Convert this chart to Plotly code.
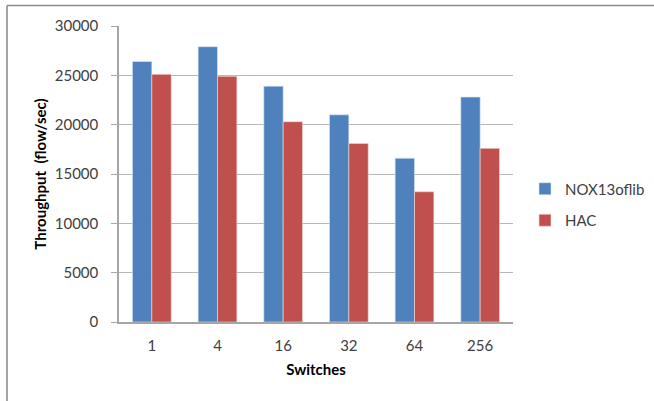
import plotly.graph_objects as go

switches = ["1", "4", "16", "32", "64", "256"]
nox = [26400, 27900, 23900, 21000, 16600, 22800]
hac = [25100, 24900, 20300, 18100, 13200, 17600]
y_ticks = [0, 5000, 10000, 15000, 20000, 25000, 30000]

FONT = "Lato, 'Open Sans', sans-serif"

fig = go.Figure()
fig.add_trace(go.Bar(x=switches, y=nox, name="NOX13oflib",
                     marker=dict(color="#4F81BD", line=dict(color="#DCE6F2", width=0.6)),
                     legendgroup="a"))
fig.add_trace(go.Bar(x=switches, y=hac, name="HAC",
                     marker=dict(color="#C0504D", line=dict(color="#F2DCDB", width=0.6)),
                     legendgroup="b"))

W, H = 654, 401
L, R, T, B = 119, 141, 26, 79
pw, ph = W - L - R, H - T - B

def px(x):
    return (x - L) / pw

def py(y):
    return (H - B - y) / ph

fig.update_layout(
    width=W, height=H, autosize=False,
    margin=dict(l=L, r=R, t=T, b=B, pad=0, autoexpand=False),
    paper_bgcolor="white", plot_bgcolor="white",
    barmode="group", bargap=0.41, bargroupgap=0,
    font=dict(family=FONT, size=15, color="#404040"),
    legend=dict(xref="container", yref="container",
                x=525 / W, y=1 - 204.5 / H, xanchor="left", yanchor="middle",
                font=dict(family=FONT, size=15, color="#404040"),
                tracegroupgap=9, itemwidth=30, bgcolor="rgba(0,0,0,0)"),
    xaxis=dict(
        showline=True, linecolor="#A6A6A6", linewidth=1.5,
        showgrid=False, ticks="", ticklabelstandoff=9,
        tickfont=dict(family=FONT, size=15, color="#404040"),
        title=dict(text="<b>Switches</b>", standoff=12,
                   font=dict(family=FONT, size=15, color="#000000")),
    ),
    yaxis=dict(
        range=[0, 30000], tickvals=y_ticks,
        ticktext=[str(v) for v in y_ticks],
        showline=True, linecolor="#A6A6A6", linewidth=1.5,
        showgrid=True, gridcolor="#B8B8B8", gridwidth=1.2,
        ticks="outside", ticklen=6, tickcolor="#A6A6A6",
        ticklabelstandoff=10, zeroline=False,
        tickfont=dict(family=FONT, size=15, color="#404040"),
        title=dict(text="<b>Throughput  (flow/sec)</b>", standoff=5,
                   font=dict(family=FONT, size=15, color="#000000")),
    ),
    shapes=[
        dict(type="line", xref="paper", yref="paper",
             x0=px(7), x1=px(W + 2), y0=py(5.5), y1=py(5.5),
             line=dict(color="#8C8C8C", width=1.6)),
        dict(type="line", xref="paper", yref="paper",
             x0=px(7), x1=px(7), y0=py(5.5), y1=py(H + 2),
             line=dict(color="#8C8C8C", width=1.6)),
    ],
    showlegend=True,
)

fig.write_html(
    "out.html",
    config={"responsive": False, "displayModeBar": False},
    post_script="document.body.style.margin='0';document.body.style.overflow='hidden';",
)
